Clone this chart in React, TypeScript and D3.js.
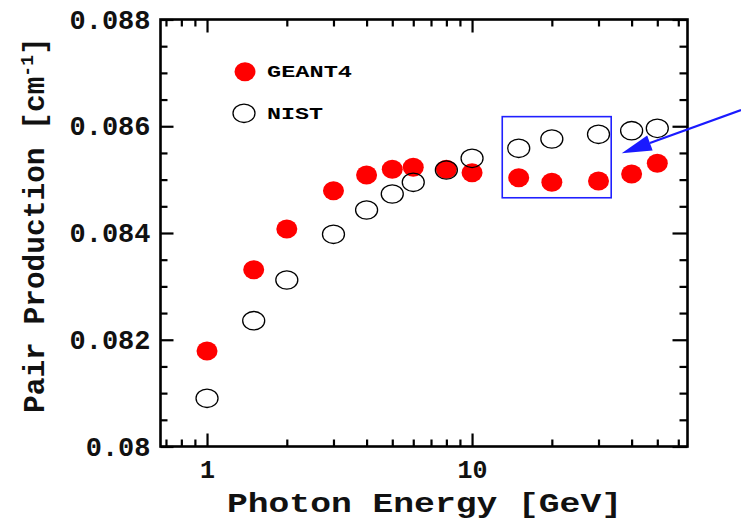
import { useEffect, useRef } from 'react'
import * as d3 from 'd3'

// photon energies [GeV]
const energies = [1, 1.5, 2, 3, 4, 5, 6, 8, 10, 15, 20, 30, 40, 50]
const geant4 = [0.08179, 0.08331, 0.084075, 0.084792, 0.085087, 0.085193, 0.085231, 0.085193, 0.08513, 0.085036, 0.08495, 0.084974, 0.085105, 0.085306]
const nist = [0.080903, 0.082357, 0.083119, 0.083976, 0.084431, 0.084731, 0.08495, 0.08518, 0.085399, 0.085587, 0.085761, 0.085849, 0.085917, 0.085961]

const xMajorTicks = [1, 10]
const xMajorLabels = ['1', '10']
const xMinorTicks = [0.7, 0.8, 0.9, 2, 3, 4, 5, 6, 7, 8, 9, 20, 30, 40, 50, 60]
const yMajorTicks = [0.08, 0.082, 0.084, 0.086, 0.088]
const yMajorLabels = ['0.08', '0.082', '0.084', '0.086', '0.088']
const yMinorTicks = [0.0805, 0.081, 0.0815, 0.0825, 0.083, 0.0835, 0.0845, 0.085, 0.0855, 0.0865, 0.087, 0.0875]

// highlighted region + arrow (data coords)
const boxX = [13, 33.5]
const boxY = [0.08466, 0.08618]
const arrowFrom = [103.5, 0.086304]
const arrowTo = [36.7, 0.085493]

const W = 741
const H = 526
const FONT = '"Liberation Mono", "Courier New", monospace'

export default function App() {
    const ref = useRef<SVGSVGElement>(null)

    useEffect(() => {
        draw()
    })

    const draw = () => {
        const svg = d3.select(ref.current)
        svg.selectAll('*').remove()

        const left = 160.5, right = 687.5, top = 19.5, bottom = 446.5
        const x = d3.scaleLog().domain([0.6675, 65]).range([left, right])
        const y = d3.scaleLinear().domain([0.08, 0.088]).range([bottom, top])

        const styleAxis = (g: any) => {
            g.select('.domain').remove()
            g.selectAll('line').attr('stroke', '#000').attr('stroke-width', 2.2)
            g.selectAll('text')
                .attr('font-family', FONT)
                .attr('font-weight', 'bold')
                .attr('fill', '#111')
        }

        // bottom
        svg.append('g').attr('transform', `translate(0,${bottom})`)
            .call(d3.axisBottom(x).tickValues(xMajorTicks).tickSize(-13).tickPadding(14)
                .tickFormat((d, i) => xMajorLabels[i]))
            .call(styleAxis)
            .selectAll('text').attr('font-size', 25)
        svg.append('g').attr('transform', `translate(0,${bottom})`)
            .call(d3.axisBottom(x).tickValues(xMinorTicks).tickSize(-7).tickFormat(() => ''))
            .call(styleAxis)
        // top
        svg.append('g').attr('transform', `translate(0,${top})`)
            .call(d3.axisTop(x).tickValues(xMajorTicks).tickSize(-13).tickFormat(() => ''))
            .call(styleAxis)
        svg.append('g').attr('transform', `translate(0,${top})`)
            .call(d3.axisTop(x).tickValues(xMinorTicks).tickSize(-7).tickFormat(() => ''))
            .call(styleAxis)
        // left
        svg.append('g').attr('transform', `translate(${left},0)`)
            .call(d3.axisLeft(y).tickValues(yMajorTicks).tickSize(-13).tickPadding(10)
                .tickFormat((d, i) => yMajorLabels[i]))
            .call(styleAxis)
            .selectAll('text').attr('font-size', 27)
        svg.append('g').attr('transform', `translate(${left},0)`)
            .call(d3.axisLeft(y).tickValues(yMinorTicks).tickSize(-7).tickFormat(() => ''))
            .call(styleAxis)
        // right
        svg.append('g').attr('transform', `translate(${right},0)`)
            .call(d3.axisRight(y).tickValues(yMajorTicks).tickSize(-15).tickFormat(() => ''))
            .call(styleAxis)
        svg.append('g').attr('transform', `translate(${right},0)`)
            .call(d3.axisRight(y).tickValues(yMinorTicks).tickSize(-8).tickFormat(() => ''))
            .call(styleAxis)

        // frame
        svg.append('rect')
            .attr('x', left).attr('y', top)
            .attr('width', right - left).attr('height', bottom - top)
            .attr('fill', 'none').attr('stroke', '#000').attr('stroke-width', 2.6)

        // data
        svg.append('g').selectAll('ellipse')
            .data(energies)
            .enter()
            .append('ellipse')
            .attr('cx', d => x(d))
            .attr('cy', (d, i) => y(geant4[i]))
            .attr('rx', 10.5).attr('ry', 9.5)
            .attr('fill', '#ff0000')
        svg.append('g').selectAll('ellipse')
            .data(energies)
            .enter()
            .append('ellipse')
            .attr('cx', d => x(d))
            .attr('cy', (d, i) => y(nist[i]))
            .attr('rx', 11).attr('ry', 9.2)
            .attr('fill', 'none')
            .attr('stroke', '#000').attr('stroke-width', 1.3)

        // legend
        svg.append('ellipse').attr('cx', 245).attr('cy', 71.7).attr('rx', 10.5).attr('ry', 9.5).attr('fill', '#ff0000')
        svg.append('ellipse').attr('cx', 244).attr('cy', 113.3).attr('rx', 11).attr('ry', 9.2)
            .attr('fill', 'none').attr('stroke', '#000').attr('stroke-width', 1.3)
        svg.append('text').attr('x', 267).attr('y', 77)
            .attr('font-family', FONT).attr('font-weight', 'bold').attr('font-size', 17)
            .attr('textLength', 85).attr('lengthAdjust', 'spacingAndGlyphs')
            .text('GEANT4')
        svg.append('text').attr('x', 267).attr('y', 118.5)
            .attr('font-family', FONT).attr('font-weight', 'bold').attr('font-size', 17)
            .attr('textLength', 56).attr('lengthAdjust', 'spacingAndGlyphs')
            .text('NIST')

        // highlight box
        svg.append('rect')
            .attr('x', x(boxX[0])).attr('y', y(boxY[1]))
            .attr('width', x(boxX[1]) - x(boxX[0]))
            .attr('height', y(boxY[0]) - y(boxY[1]))
            .attr('fill', 'none').attr('stroke', '#2020ff').attr('stroke-width', 1.6)

        // arrow
        const x0 = x(arrowFrom[0]), y0 = y(arrowFrom[1])
        const x1 = x(arrowTo[0]), y1 = y(arrowTo[1])
        const len = Math.hypot(x0 - x1, y0 - y1)
        const ux = (x0 - x1) / len, uy = (y0 - y1) / len
        const hl = 30, hw = 8
        const bx = x1 + ux * hl, by = y1 + uy * hl
        svg.append('line')
            .attr('x1', x0).attr('y1', y0).attr('x2', bx).attr('y2', by)
            .attr('stroke', '#1a1aff').attr('stroke-width', 2.2)
        svg.append('path')
            .attr('d', `M${x1},${y1}L${bx - uy * hw},${by + ux * hw}L${bx + uy * hw},${by - ux * hw}Z`)
            .attr('fill', '#1a1aff')

        // axis titles
        svg.append('text').attr('x', 227).attr('y', 512)
            .attr('font-family', FONT).attr('font-weight', 'bold').attr('font-size', 27)
            .attr('textLength', 395).attr('lengthAdjust', 'spacingAndGlyphs')
            .attr('fill', '#111')
            .text('Photon Energy [GeV]')

        const yt = svg.append('text')
            .attr('transform', 'translate(44,413) rotate(-90)')
            .attr('font-family', FONT).attr('font-weight', 'bold').attr('font-size', 29.5)
            .attr('fill', '#111')
        yt.append('tspan').text('Pair Production [cm')
        yt.append('tspan').attr('dy', -11).attr('font-size', 18).text('-1')
        yt.append('tspan').attr('dy', 11).text(']')
    }

    return (
        <svg ref={ref} width={W} height={H}
            style={{ position: 'absolute', left: 0, top: 0, background: '#fff' }} />
    )
}
